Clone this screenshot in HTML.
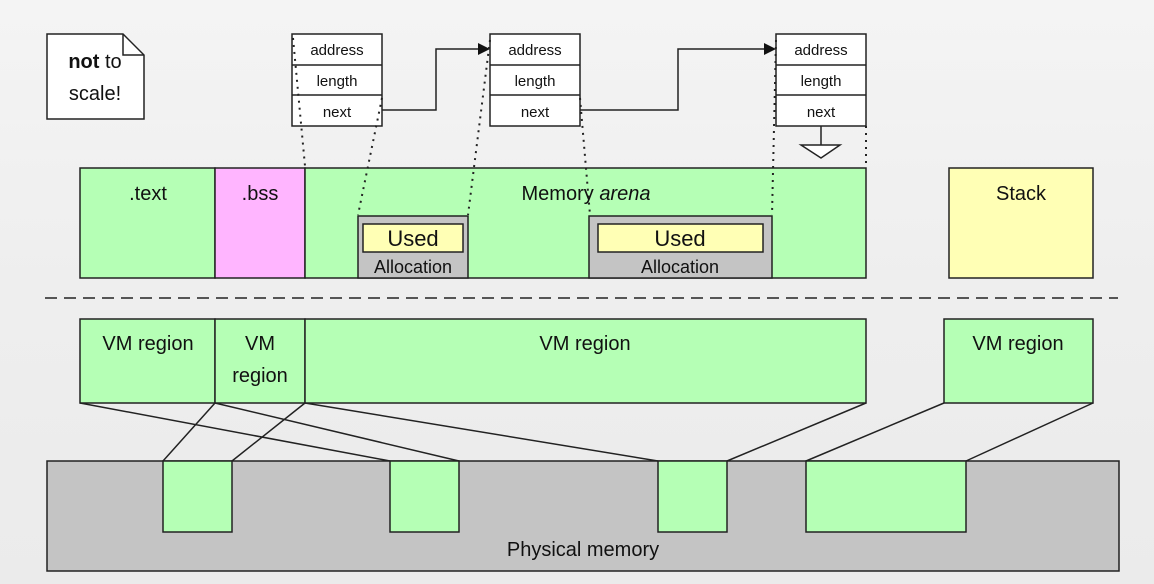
<!DOCTYPE html>
<html><head><meta charset="utf-8"><style>
html,body{margin:0;padding:0;width:1154px;height:584px;overflow:hidden;background:#efefef;}
svg{display:block;font-family:"Liberation Sans",sans-serif;}
</style></head><body>
<svg width="1154" height="584" viewBox="0 0 1154 584" xmlns="http://www.w3.org/2000/svg">
<defs>
<linearGradient id="bg" x1="0" y1="0" x2="0" y2="1">
<stop offset="0" stop-color="#f4f4f4"/><stop offset="0.5" stop-color="#eeeeee"/><stop offset="1" stop-color="#ebebeb"/>
</linearGradient>
</defs>
<rect width="1154" height="584" fill="url(#bg)"/>
<g stroke="#222" stroke-width="1.5">
<path d="M47,34 H123 L144,55 V119 H47 Z" fill="#fff"/>
<path d="M123,34 V55 H144" fill="none"/>
<g fill="#fff">
<rect x="292" y="34" width="90" height="92"/>
<rect x="490" y="34" width="90" height="92"/>
<rect x="776" y="34" width="90" height="92"/>
</g>
<path d="M292,65H382M292,95H382M490,65H580M490,95H580M776,65H866M776,95H866" fill="none"/>
<path d="M382,110 H436 V49 H478" fill="none"/>
<path d="M580,110 H678 V49 H764" fill="none"/>
<path d="M821,126 V145" fill="none"/>
<path d="M801,145 H840 L821,158 Z" fill="#fff"/>
<rect x="80" y="168" width="135" height="110" fill="#b5ffb5"/>
<rect x="215" y="168" width="90" height="110" fill="#ffb5ff"/>
<rect x="305" y="168" width="561" height="110" fill="#b5ffb5"/>
<rect x="358" y="216" width="110" height="62" fill="#c4c4c4"/>
<rect x="363" y="224" width="100" height="28" fill="#ffffb5"/>
<rect x="589" y="216" width="183" height="62" fill="#c4c4c4"/>
<rect x="598" y="224" width="165" height="28" fill="#ffffb5"/>
<rect x="949" y="168" width="144" height="110" fill="#ffffb5"/>
<path d="M45,298 H1118" stroke-dasharray="12,7" fill="none"/>
<rect x="80" y="319" width="135" height="84" fill="#b5ffb5"/>
<rect x="215" y="319" width="90" height="84" fill="#b5ffb5"/>
<rect x="305" y="319" width="561" height="84" fill="#b5ffb5"/>
<rect x="944" y="319" width="149" height="84" fill="#b5ffb5"/>
<rect x="47" y="461" width="1072" height="110" fill="#c4c4c4"/>
<rect x="163" y="461" width="69" height="71" fill="#b5ffb5"/>
<rect x="390" y="461" width="69" height="71" fill="#b5ffb5"/>
<rect x="658" y="461" width="69" height="71" fill="#b5ffb5"/>
<rect x="806" y="461" width="160" height="71" fill="#b5ffb5"/>
<path d="M80,403L390,461M215,403L163,461M215,403L459,461M305,403L232,461M305,403L658,461M866,403L727,461M944,403L806,461M1093,403L966,461" fill="none"/>
</g>
<path d="M478,43 L490,49 L478,55 Z M764,43 L776,49 L764,55 Z" fill="#111"/>
<g stroke="#222" stroke-width="2" stroke-dasharray="2,5" fill="none">
<path d="M293,38 L305,166"/>
<path d="M382,98 L358,215"/>
<path d="M490,40 L468,215"/>
<path d="M580,98 L590,215"/>
<path d="M776,40 L772,215"/>
<path d="M866,126 L866,168"/>
</g>
<g fill="#111" text-anchor="middle">
<text x="95" y="68" font-size="20"><tspan font-weight="bold">not</tspan> to</text>
<text x="95" y="100" font-size="20">scale!</text>
<g font-size="15">
<text x="337" y="55">address</text><text x="337" y="86">length</text><text x="337" y="117">next</text>
<text x="535" y="55">address</text><text x="535" y="86">length</text><text x="535" y="117">next</text>
<text x="821" y="55">address</text><text x="821" y="86">length</text><text x="821" y="117">next</text>
</g>
<g font-size="20">
<text x="148" y="200">.text</text>
<text x="260" y="200">.bss</text>
<text x="586" y="200">Memory <tspan font-style="italic">arena</tspan></text>
<text x="1021" y="200">Stack</text>
<text x="148" y="350">VM region</text>
<text x="260" y="350">VM</text>
<text x="260" y="382">region</text>
<text x="585" y="350">VM region</text>
<text x="1018" y="350">VM region</text>
<text x="583" y="556">Physical memory</text>
</g>
<g font-size="22">
<text x="413" y="246">Used</text>
<text x="680" y="246">Used</text>
</g>
<g font-size="18">
<text x="413" y="273">Allocation</text>
<text x="680" y="273">Allocation</text>
</g>
</g>
</svg>
</body></html>
